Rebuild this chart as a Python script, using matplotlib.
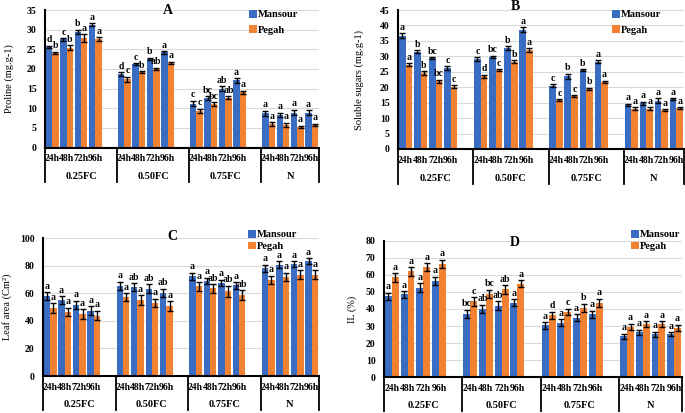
import matplotlib
matplotlib.use('Agg')
import matplotlib.pyplot as plt
import matplotlib.transforms as mtransforms
import numpy as np

plt.rcParams['font.family'] = ['Liberation Serif', 'DejaVu Serif']
plt.rcParams['font.weight'] = 'bold'

groups = ['0.25FC', '0.50FC', '0.75FC', 'N']
times = ['24h', '48h', '72h', '96h']
cultivars = ['Mansour', 'Pegah']

# A - proline (mg.g-1)
proline_m = [25.6, 27.5, 29.5, 31.3, 18.7, 21.2, 22.6, 24.2, 11.2, 12.6, 15.0, 17.1, 8.7, 8.3, 8.9, 8.9]
proline_p = [24.1, 25.4, 27.9, 27.6, 17.4, 19.2, 20.0, 21.5, 9.4, 11.1, 12.7, 14.1, 6.0, 5.7, 5.3, 5.8]
proline_m_err = [0.3, 0.4, 0.5, 0.3, 0.4, 0.3, 0.3, 0.3, 0.7, 0.5, 0.6, 0.6, 0.7, 0.6, 0.7, 0.6]
proline_p_err = [0.3, 0.6, 1.0, 0.5, 0.6, 0.3, 0.3, 0.3, 0.5, 0.5, 0.3, 0.4, 0.5, 0.6, 0.3, 0.3]
proline_m_let = ['d', 'c', 'b', 'a', 'd', 'c', 'b', 'a', 'c', 'bc', 'ab', 'a', 'a', 'a', 'a', 'a']
proline_p_let = ['b', 'b', 'a', 'a', 'c', 'b', 'ab', 'a', 'c', 'bc', 'ab', 'a', 'a', 'a', 'a', 'a']

# B - soluble sugars (mg.g-1)
sugar_m = [36.7, 31.5, 29.4, 26.2, 29.1, 29.8, 32.6, 38.6, 20.5, 23.6, 25.6, 28.2, 14.3, 14.8, 15.7, 16.2]
sugar_p = [27.3, 24.6, 22.0, 20.2, 23.5, 25.5, 28.3, 32.1, 15.9, 17.2, 19.4, 21.7, 13.1, 13.0, 12.6, 13.3]
sugar_m_err = [0.8, 0.5, 0.4, 0.6, 0.6, 0.4, 0.6, 0.8, 0.4, 0.8, 0.3, 0.5, 0.4, 0.5, 0.8, 0.3]
sugar_p_err = [0.5, 0.6, 0.5, 0.5, 0.5, 0.3, 0.5, 0.6, 0.3, 0.3, 0.4, 0.4, 0.4, 0.5, 0.3, 0.3]
sugar_m_let = ['a', 'b', 'bc', 'c', 'c', 'bc', 'b', 'a', 'c', 'b', 'b', 'a', 'a', 'a', 'a', 'a']
sugar_p_let = ['a', 'b', 'bc', 'c', 'd', 'c', 'b', 'a', 'c', 'c', 'b', 'a', 'a', 'a', 'a', 'a']

# C - leaf area (Cm2)
leaf_m = [58.0, 55.0, 51.6, 47.5, 65.5, 64.5, 63.5, 60.5, 72.5, 69.0, 67.5, 65.8, 78.3, 80.7, 81.5, 83.5]
leaf_p = [49.2, 46.5, 45.2, 43.9, 57.3, 55.0, 53.0, 50.9, 65.0, 63.6, 61.5, 59.0, 69.8, 72.0, 73.7, 73.7]
leaf_m_err = [3.0, 3.0, 3.0, 3.0, 3.0, 3.0, 3.0, 3.0, 2.5, 2.5, 2.5, 2.5, 2.5, 2.5, 2.0, 2.0]
leaf_p_err = [3.5, 3.0, 3.5, 3.5, 3.0, 3.5, 3.0, 3.5, 3.0, 3.0, 4.0, 3.5, 3.0, 3.0, 3.0, 3.0]
leaf_m_let = ['a', 'a', 'a', 'a', 'a', 'ab', 'ab', 'ab', 'a', 'a', 'a', 'a', 'a', 'a', 'a', 'a']
leaf_p_let = ['a', 'a', 'a', 'a', 'a', 'a', 'a', 'a', 'a', 'ab', 'ab', 'ab', 'a', 'a', 'a', 'a']

# D - IL (%)
il_m = [47.5, 48.5, 52.5, 56.5, 37.0, 40.0, 42.0, 43.6, 30.4, 32.0, 35.0, 37.0, 24.0, 26.4, 25.3, 25.3]
il_p = [58.5, 62.0, 64.5, 66.3, 44.5, 48.8, 51.5, 54.8, 36.4, 38.2, 40.6, 43.6, 29.6, 31.2, 31.2, 29.0]
il_m_err = [2.0, 2.0, 2.5, 2.5, 2.5, 2.5, 2.5, 2.0, 2.0, 2.0, 2.0, 2.0, 1.5, 1.5, 1.5, 1.2]
il_p_err = [2.5, 2.5, 2.5, 2.5, 2.5, 2.5, 2.5, 2.0, 2.0, 2.0, 2.5, 2.5, 1.8, 1.5, 1.5, 1.8]
il_m_let = ['a', 'a', 'a', 'a', 'bc', 'ab', 'ab', 'a', 'a', 'a', 'a', 'a', 'a', 'a', 'a', 'a']
il_p_let = ['a', 'a', 'a', 'a', 'c', 'bc', 'ab', 'a', 'd', 'c', 'b', 'a', 'a', 'a', 'a', 'a']

BLUE = '#3a6cc4'
ORANGE = '#f28131'
W, H = 685, 413


def px_axes(left, top, right, bottom):
    return fig.add_axes([left / W, 1 - bottom / H, (right - left) / W, (bottom - top) / H])


def draw_panel(ax, m, p, m_err, p_err, m_let, p_let, ymax, ystep, ylabel, ylab_x, title,
               title_xy, leg_xy, leg_space):
    # 4 slots per group + a blank slot between groups (19 slots in all)
    slots = np.array([g * 5 + t + 0.5 for g in range(4) for t in range(4)])
    bw = 0.44
    bm = ax.bar(slots - bw / 2, m, bw, color=BLUE, zorder=2, label=cultivars[0])
    bp = ax.bar(slots + bw / 2, p, bw, color=ORANGE, zorder=2, label=cultivars[1])
    ax.errorbar(slots - bw / 2, m, yerr=m_err, fmt='none', ecolor='black', elinewidth=1,
                capsize=2.2, capthick=1, zorder=3)
    ax.errorbar(slots + bw / 2, p, yerr=p_err, fmt='none', ecolor='black', elinewidth=1,
                capsize=2.2, capthick=1, zorder=3)
    for i in range(len(slots)):
        ax.annotate(m_let[i], (slots[i] - bw / 2, m[i] + m_err[i]), xytext=(0, 1),
                    textcoords='offset points', ha='center', va='bottom', fontsize=7)
        ax.annotate(p_let[i], (slots[i] + bw / 2, p[i] + p_err[i]), xytext=(0, 1),
                    textcoords='offset points', ha='center', va='bottom', fontsize=7)

    ax.set_xlim(0, 19)
    ax.set_ylim(0, ymax)
    ax.set_yticks(np.arange(0, ymax + 0.1, ystep))
    ax.set_xticks(slots, times * 4)
    ax.tick_params(axis='x', length=0, pad=5, labelsize=7)
    ax.tick_params(axis='y', length=0, pad=6, labelsize=7)
    ax.yaxis.grid(True, color='#d9d9d9', lw=0.8)
    ax.set_axisbelow(True)
    for s in ['top', 'right']:
        ax.spines[s].set_visible(False)
    ax.spines['left'].set_linewidth(1.5)
    ax.spines['bottom'].set_linewidth(1.5)

    trans = mtransforms.blended_transform_factory(ax.transData, ax.transAxes)
    for xs in [0, 5, 10, 15, 19]:
        ax.plot([xs, xs], [0, -0.25], transform=trans, color='black', lw=1.3, clip_on=False)
    for g, name in enumerate(groups):
        cx = g * 5 + 2.5 if g < 3 else 17
        ax.text(cx, -0.21, name, transform=trans, ha='center', va='center', fontsize=7.5)

    ax.set_ylabel(ylabel, fontsize=7.5, va='center')
    ax.yaxis.set_label_coords(ylab_x, 0.5)
    fig.text(title_xy[0] / W, 1 - title_xy[1] / H, title, ha='center', va='center', fontsize=10)
    ax.legend(handles=[bm, bp], loc='upper left', bbox_to_anchor=(leg_xy[0] / W, 1 - leg_xy[1] / H),
              bbox_transform=fig.transFigure, frameon=False, borderaxespad=0, borderpad=0,
              handlelength=0.75, handleheight=0.75, handletextpad=0.1, labelspacing=leg_space,
              fontsize=7.5)


fig = plt.figure(figsize=(6.85, 4.13), dpi=100)

ax_a = px_axes(45, 10, 319, 147.5)
draw_panel(ax_a, proline_m, proline_p, proline_m_err, proline_p_err, proline_m_let, proline_p_let,
           35, 5, 'Proline (mg.g-1)', (9 - 45) / 274, 'A', (168, 10), (249, 10), 0.55)

ax_b = px_axes(398, 10, 684, 149)
draw_panel(ax_b, sugar_m, sugar_p, sugar_m_err, sugar_p_err, sugar_m_let, sugar_p_let,
           45, 5, 'Soluble sugars (mg.g-1)', (359 - 398) / 286, 'B', (515, 7), (612, 10), 0.55)

ax_c = px_axes(43, 238.3, 319, 376)
draw_panel(ax_c, leaf_m, leaf_p, leaf_m_err, leaf_p_err, leaf_m_let, leaf_p_let,
           100, 20, 'Leaf area (Cm²)', (7 - 43) / 276, 'C', (172, 237), (248, 230), 0.2)

ax_d = px_axes(384, 240.7, 682, 377.3)
draw_panel(ax_d, il_m, il_p, il_m_err, il_p_err, il_m_let, il_p_let,
           80, 10, 'IL (%)', (352 - 384) / 298, 'D', (515, 242), (631, 230), 0.2)

fig.savefig('out.png', dpi=100)
